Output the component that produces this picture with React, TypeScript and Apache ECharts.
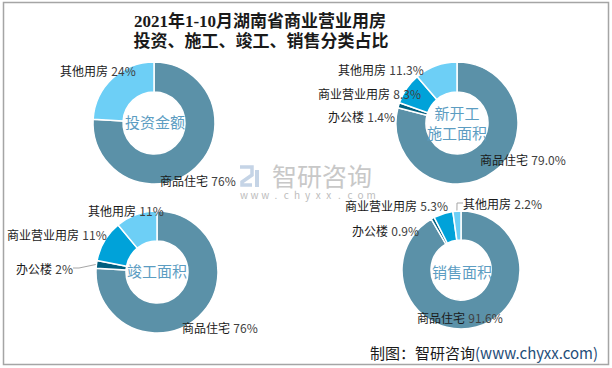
import React, { useEffect, useRef } from "react";
import * as echarts from "echarts";

const NAMES = ["商品住宅", "办公楼", "商业营业用房", "其他用房"];
const COLORS = ["#5B91A8", "#005F7F", "#00A2D9", "#6DCFF6"];

const INVEST_NAMES = ["商品住宅", "其他用房"];
const INVEST_COLORS = ["#5B91A8", "#6DCFF6"];
const INVEST_VALUES = [76, 24];
const START_VALUES = [79.0, 1.4, 8.3, 11.3];
const FINISH_VALUES = [76, 2, 11, 11];
const SALES_VALUES = [91.6, 0.9, 5.3, 2.2];

const CENTER_TITLES = ["投资金额", "新开工\n施工面积", "竣工面积", "销售面积"];
const DECIMALS = [0, 1, 0, 1];

// layout (pixels)
const CENTERS = [[154, 123], [457, 123], [157, 272], [461, 270]];
const RADII = [[31, 61], [31, 61], [31, 61], [30, 59]];
const TEXT_CENTERS = [[155, 121], [457, 122], [157, 270], [462, 271]];
const LABEL_POS = [
  [[160, 180], [60, 70]],
  [[480, 159], [328, 116], [318, 93], [338, 69]],
  [[182, 327], [16, 268], [7, 234], [88, 210]],
  [[417, 317], [352, 230], [345, 205], [463, 203]],
];
const SHOW_LINE = [
  [false, false],
  [false, false, false, false],
  [false, true, false, false],
  [false, false, false, true],
];

const CJK = "'Noto Sans CJK SC', 'Noto Sans', sans-serif";

export default function App() {
  const ref = useRef<HTMLDivElement>(null);
  useEffect(() => {
    document.body.style.margin = "0";
    const chart = echarts.init(ref.current!, null, { renderer: "svg" });

    const pies = [
      { names: INVEST_NAMES, colors: INVEST_COLORS, values: INVEST_VALUES },
      { names: NAMES, colors: COLORS, values: START_VALUES },
      { names: NAMES, colors: COLORS, values: FINISH_VALUES },
      { names: NAMES, colors: COLORS, values: SALES_VALUES },
    ];

    const series = pies.map((p, si) => ({
      type: "pie",
      center: CENTERS[si],
      radius: RADII[si],
      startAngle: 90,
      clockwise: true,
      avoidLabelOverlap: false,
      silent: true,
      itemStyle: { borderColor: "#ffffff", borderWidth: 1.5 },
      label: {
        show: true,
        position: "outside",
        formatter: (prm: any) =>
          `{n|${prm.name}} {v|${Number(prm.value).toFixed(DECIMALS[si])}%}`,
        rich: {
          n: { color: "#1a1a1a", fontSize: 12, fontFamily: CJK },
          v: { color: "#404040", fontSize: 12, fontFamily: CJK },
        },
      },
      labelLine: { show: true, length: 6, length2: 6, lineStyle: { color: "#a6a6a6", width: 1 } },
      labelLayout: (prm: any) => {
        const pos = LABEL_POS[si][prm.dataIndex];
        return { x: pos[0], y: pos[1], align: "left", verticalAlign: "middle" };
      },
      data: p.values.map((v, i) => ({
        name: p.names[i],
        value: v,
        itemStyle: { color: p.colors[i] },
        labelLine: { show: SHOW_LINE[si][i] },
      })),
    }));

    const centerTexts = CENTER_TITLES.map((t, i) => ({
      type: "text",
      x: TEXT_CENTERS[i][0],
      y: TEXT_CENTERS[i][1],
      style: {
        text: t,
        fill: "#5C9DC2",
        font: `15px ${CJK}`,
        align: "center",
        verticalAlign: "middle",
        lineHeight: 20,
      },
      z: 10,
    }));

    const wm = "www.chyxx.com".split("").map((ch, i) => ({
      type: "text",
      x: 244 + i * 10.6,
      y: 194,
      style: { text: ch, fill: "#bdbdbd", font: `10px ${CJK}`, align: "center", verticalAlign: "middle" },
      z: 0,
    }));

    chart.setOption({
      animation: false,
      backgroundColor: "#ffffff",
      series,
      graphic: [
        {
          type: "rect",
          shape: { x: 3.5, y: 2.5, width: 605, height: 362 },
          style: { fill: "none", stroke: "#a5a5a5", lineWidth: 1.5 },
          silent: true,
        },
        {
          type: "text",
          x: 260,
          y: 21,
          style: {
            text: "2021年1-10月湖南省商业营业用房",
            fill: "#1a1a1a",
            font: `bold 17px 'Liberation Serif', 'Noto Sans CJK SC', serif`,
            align: "center",
            verticalAlign: "middle",
          },
        },
        {
          type: "text",
          x: 261,
          y: 41,
          style: {
            text: "投资、施工、竣工、销售分类占比",
            fill: "#1a1a1a",
            font: `bold 17px 'Liberation Serif', 'Noto Sans CJK SC', serif`,
            align: "center",
            verticalAlign: "middle",
          },
        },
        ...centerTexts,
        // watermark logo
        {
          type: "polyline",
          shape: { points: [[240, 167], [252, 167], [252, 175], [242, 182], [242, 185], [252, 185]] },
          style: { stroke: "#c5d4e6", lineWidth: 3.5, fill: "none" },
          z: 0,
        },
        {
          type: "rect",
          shape: { x: 255, y: 170, width: 4, height: 17 },
          style: { fill: "#c5d4e6" },
          z: 0,
        },
        {
          type: "text",
          x: 322,
          y: 175,
          style: {
            text: "智研咨询",
            fill: "#c8c8c8",
            font: `25px ${CJK}`,
            align: "center",
            verticalAlign: "middle",
          },
          z: 0,
        },
        ...wm,
        {
          type: "text",
          x: 598,
          y: 352,
          style: {
            text: "{a|制图：智研咨询}{b|(www.chyxx.com)}",
            align: "right",
            verticalAlign: "middle",
            rich: {
              a: { fill: "#1a1a1a", font: `15px ${CJK}` },
              b: { fill: "#1F4E79", font: `15px ${CJK}` },
            },
          },
        },
      ],
    });
    return () => chart.dispose();
  }, []);
  return <div ref={ref} style={{ width: 612, height: 368 }} />;
}
